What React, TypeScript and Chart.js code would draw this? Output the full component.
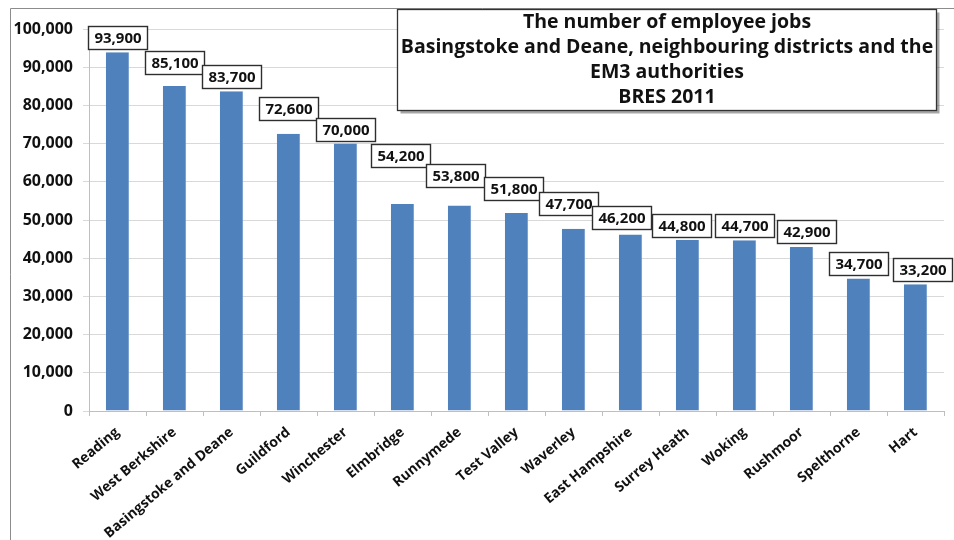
import React, { useEffect, useRef } from "react";
import { Chart, registerables } from "chart.js";

Chart.register(...registerables);

const categories = [
  "Reading",
  "West Berkshire",
  "Basingstoke and Deane",
  "Guildford",
  "Winchester",
  "Elmbridge",
  "Runnymede",
  "Test Valley",
  "Waverley",
  "East Hampshire",
  "Surrey Heath",
  "Woking",
  "Rushmoor",
  "Spelthorne",
  "Hart",
];

const jobs = [
  93900, 85100, 83700, 72600, 70000, 54200, 53800, 51800, 47700, 46200, 44800,
  44700, 42900, 34700, 33200,
];

const titleLines = [
  "The number of employee jobs",
  "Basingstoke and Deane, neighbouring districts and the",
  "EM3 authorities",
  "BRES 2011",
];

const yTicks = { min: 0, max: 100000, step: 10000 };

// Label box placement nudges in pixels [dx, extra lift], as in the original layout
const labelNudge: [number, number][] = [
  [0, 0], [0, 9], [0, 0], [0, 11], [0, 0], [-2, 34], [-4, 15], [-3, 10],
  [-5, 11], [-9, 3], [-6, 0], [0, 0], [5, 1], [0, 0], [7, 0],
];

const FONT = "'Open Sans', 'DejaVu Sans', sans-serif";

const framePlugin = {
  id: "frame",
  beforeDraw(chart: any) {
    const ctx = chart.ctx;
    ctx.save();
    ctx.fillStyle = "#ffffff";
    ctx.fillRect(0, 0, chart.width, chart.height);
    ctx.strokeStyle = "#8c8c8c";
    ctx.lineWidth = 1;
    ctx.beginPath();
    ctx.moveTo(10.5, chart.height);
    ctx.lineTo(10.5, 8.5);
    ctx.lineTo(chart.width, 8.5);
    ctx.stroke();
    ctx.restore();
  },
};

const labelPlugin = {
  id: "boxLabels",
  afterDatasetsDraw(chart: any) {
    const ctx = chart.ctx;
    const meta = chart.getDatasetMeta(0);
    ctx.save();
    ctx.font = `bold 15px ${FONT}`;
    ctx.textAlign = "center";
    ctx.textBaseline = "middle";
    meta.data.forEach((bar: any, i: number) => {
      const text = jobs[i].toLocaleString("en-US");
      const [dx, lift] = labelNudge[i] || [0, 0];
      const w = 59;
      const h = 23;
      const cx = bar.x + dx;
      const bottom = bar.y - 3 - lift;
      const x0 = Math.round(cx - w / 2) + 0.5;
      const y0 = Math.round(bottom - h) + 0.5;
      ctx.fillStyle = "#ffffff";
      ctx.fillRect(x0, y0, w, h);
      ctx.strokeStyle = "#2e2e2e";
      ctx.lineWidth = 1.4;
      ctx.strokeRect(x0, y0, w, h);
      ctx.fillStyle = "#111111";
      ctx.fillText(text, x0 + w / 2, y0 + h / 2 + 1);
    });
    ctx.restore();
  },
  afterDraw(chart: any) {
    const ctx = chart.ctx;
    const x0 = 397.5;
    const y0 = 9.5;
    const w = 539;
    const h = 101;
    ctx.save();
    ctx.fillStyle = "rgba(0,0,0,0.35)";
    ctx.fillRect(x0 + 3, y0 + 3, w, h);
    ctx.fillStyle = "#ffffff";
    ctx.fillRect(x0, y0, w, h);
    ctx.strokeStyle = "#333333";
    ctx.lineWidth = 1.3;
    ctx.strokeRect(x0, y0, w, h);
    ctx.fillStyle = "#111111";
    ctx.font = `bold 19.5px ${FONT}`;
    ctx.textAlign = "center";
    ctx.textBaseline = "middle";
    titleLines.forEach((line, i) => {
      ctx.fillText(line, x0 + w / 2, 22 + i * 25);
    });
    ctx.restore();
  },
};

export default function App() {
  const ref = useRef<HTMLCanvasElement>(null);

  useEffect(() => {
    document.body.style.margin = "0";
    const canvas = ref.current;
    if (!canvas) return;
    const chart = new Chart(canvas, {
      type: "bar",
      data: {
        labels: categories,
        datasets: [
          {
            data: jobs,
            backgroundColor: "#4F81BD",
            borderColor: "#6F97CA",
            borderWidth: { left: 0, right: 1, top: 0, bottom: 0 },
            barPercentage: 0.41,
            categoryPercentage: 1,
          },
        ],
      },
      options: {
        responsive: false,
        animation: false,
        devicePixelRatio: 1,
        layout: { padding: { left: 0, right: 10, top: 29, bottom: 0 } },
        plugins: {
          legend: { display: false },
          tooltip: { enabled: false },
          title: { display: false },
        },
        scales: {
          x: {
            grid: {
              display: true,
              drawOnChartArea: false,
              drawTicks: true,
              tickLength: 5,
              color: "#bfbfbf",
              offset: true,
            },
            border: { display: true, color: "#bfbfbf" },
            ticks: {
              autoSkip: false,
              maxRotation: 40,
              minRotation: 40,
              padding: 8,
              color: "#111111",
              font: { family: FONT, size: 14, weight: "bold" },
            },
            afterFit(scale: any) {
              scale.height = 129;
            },
          },
          y: {
            min: yTicks.min,
            max: yTicks.max,
            grid: {
              color: "#d9d9d9",
              tickLength: 6,
              drawTicks: true,
            },
            border: { display: true, color: "#bfbfbf" },
            ticks: {
              stepSize: yTicks.step,
              padding: 10,
              color: "#111111",
              font: { family: FONT, size: 16, weight: "bold" },
              callback: (v: any) => Number(v).toLocaleString("en-US"),
            },
            afterFit(scale: any) {
              scale.width = 89;
            },
          },
        },
      },
      plugins: [framePlugin, labelPlugin],
    });
    return () => chart.destroy();
  }, []);

  return (
    <div style={{ position: "fixed", left: 0, top: 0, width: 954, height: 540, background: "#fff" }}>
      <canvas ref={ref} width={954} height={540} />
    </div>
  );
}
